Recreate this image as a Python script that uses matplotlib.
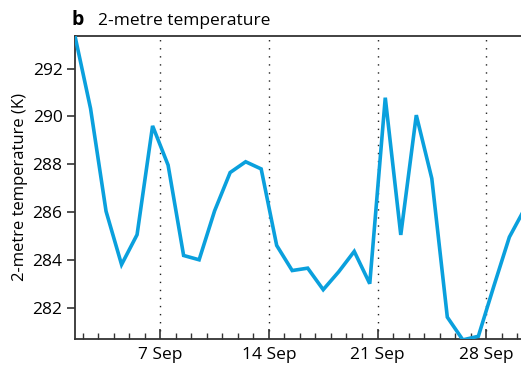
import numpy as np
import pandas as pd
import matplotlib
matplotlib.use("Agg")
import matplotlib.pyplot as plt
import matplotlib.dates as mdates

# daily 2-m temperature, sampled at noon, September
dates = pd.date_range("2017-09-01 12:00", periods=30, freq="D")
temp_k = [293.35, 290.33, 286.03, 283.80, 285.05, 289.60, 287.96, 284.18,
          284.00, 286.05, 287.65, 288.10, 287.80, 284.60, 283.55, 283.65,
          282.75, 283.50, 284.35, 283.00, 290.78, 285.04, 290.05, 287.40,
          281.60, 280.65, 280.80, 282.90, 284.95, 286.15]
yticks = [282, 284, 286, 288, 290, 292]
major_days = [7, 14, 21, 28]

plt.rcParams["font.family"] = ["Open Sans", "DejaVu Sans"]
blue = "#0aa0dd"
spine_col = "#333333"

fig = plt.figure(figsize=(5.21, 3.70), dpi=100)
ax = fig.add_axes([0.144, 0.084, 0.856, 0.820])

ax.plot(dates, temp_k, color=blue, lw=2.6, solid_joinstyle="miter", zorder=3)

ax.set_xlim(pd.Timestamp("2017-09-01 12:00"), pd.Timestamp("2017-09-30 06:00"))
ax.set_ylim(280.69, 293.38)

ax.xaxis.set_major_locator(mdates.DayLocator(bymonthday=major_days))
ax.xaxis.set_minor_locator(mdates.DayLocator())
ax.xaxis.set_major_formatter(mdates.DateFormatter("%-d %b"))
ax.set_yticks(yticks)

for d in major_days:
    ax.axvline(pd.Timestamp(f"2017-09-{d:02d}"), color="#222222", lw=1.0,
               ls=(0, (1, 4.8)), zorder=1)

ax.tick_params(axis="x", which="major", direction="in", length=7, width=1.2,
               color=spine_col, labelsize=12.5, pad=6)
ax.tick_params(axis="x", which="minor", direction="in", length=4.5, width=1.0,
               color=spine_col)
ax.tick_params(axis="y", direction="out", length=6, width=1.2,
               color=spine_col, labelsize=12.5, pad=3)

for s in ["left", "top", "bottom"]:
    ax.spines[s].set_color(spine_col)
    ax.spines[s].set_linewidth(1.3)
ax.spines["right"].set_visible(False)

ax.set_ylabel("2-metre temperature (K)", fontsize=12, labelpad=3)

fig.text(0.137, 0.932, "b", fontsize=14, fontweight="bold", va="baseline")
fig.text(0.188, 0.932, "2-metre temperature", fontsize=12.5, va="baseline")

fig.savefig("out.png", dpi=100)
